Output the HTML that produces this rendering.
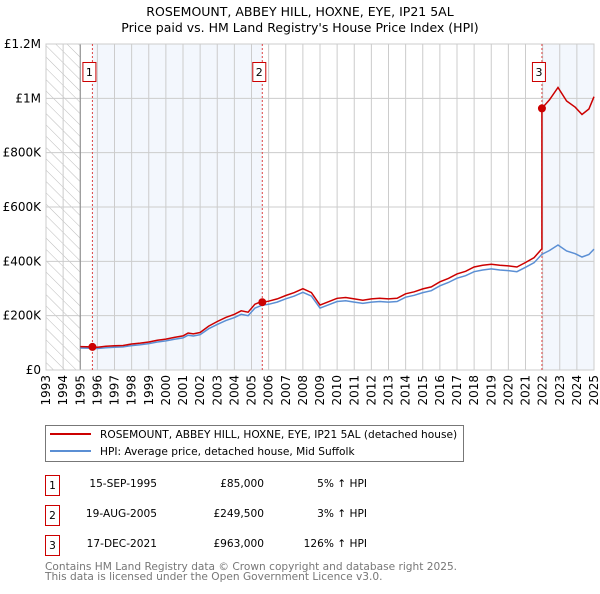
<!DOCTYPE html>
<html><head><meta charset="utf-8">
<style>
body{margin:0;background:#fff;font-family:"DejaVu Sans","Liberation Sans",sans-serif;}
svg text{font-family:"DejaVu Sans","Liberation Sans",sans-serif;}
</style></head>
<body>
<svg id="chart" width="600" height="590" xmlns="http://www.w3.org/2000/svg">
<defs>
<pattern id="hatch" patternUnits="userSpaceOnUse" width="8" height="8" patternTransform="rotate(-45)">
<line x1="0" y1="0" x2="0" y2="8" stroke="#bbb" stroke-width="1"/>
</pattern>
</defs>
<text x="300" y="16" text-anchor="middle" font-size="12.5">ROSEMOUNT, ABBEY HILL, HOXNE, EYE, IP21 5AL</text>
<text x="300" y="32" text-anchor="middle" font-size="12.5">Price paid vs. HM Land Registry's House Price Index (HPI)</text>
<g id="plot"></g>
<g>
<rect x="45.5" y="425.5" width="418" height="36" fill="#fff" stroke="#777"/>
<line x1="50" y1="434" x2="91" y2="434" stroke="#cc0000" stroke-width="2"/>
<text x="100" y="438" font-size="10.6">ROSEMOUNT, ABBEY HILL, HOXNE, EYE, IP21 5AL (detached house)</text>
<line x1="50" y1="451" x2="91" y2="451" stroke="#5b8fd4" stroke-width="2"/>
<text x="100" y="455" font-size="10.6">HPI: Average price, detached house, Mid Suffolk</text>
</g>
<g font-size="10.6">
<rect x="45.5" y="475.5" width="14" height="20" fill="#fff" stroke="#cc0000"/><text x="52.5" y="489" text-anchor="middle">1</text>
<text x="157" y="487" text-anchor="end">15-SEP-1995</text><text x="264" y="487" text-anchor="end">£85,000</text><text x="367" y="487" text-anchor="end">5% ↑ HPI</text>
<rect x="45.5" y="505.5" width="14" height="20" fill="#fff" stroke="#cc0000"/><text x="52.5" y="519" text-anchor="middle">2</text>
<text x="157" y="517" text-anchor="end">19-AUG-2005</text><text x="264" y="517" text-anchor="end">£249,500</text><text x="367" y="517" text-anchor="end">3% ↑ HPI</text>
<rect x="45.5" y="535.5" width="14" height="20" fill="#fff" stroke="#cc0000"/><text x="52.5" y="549" text-anchor="middle">3</text>
<text x="157" y="547" text-anchor="end">17-DEC-2021</text><text x="264" y="547" text-anchor="end">£963,000</text><text x="367" y="547" text-anchor="end">126% ↑ HPI</text>
</g>
<text x="45" y="570" font-size="10.6" fill="#777">Contains HM Land Registry data © Crown copyright and database right 2025.</text>
<text x="45" y="580" font-size="10.6" fill="#777">This data is licensed under the Open Government Licence v3.0.</text>
</svg>
<script>
const hpiYears = [1995,1995.7,1996,1996.5,1997,1997.5,1998,1998.5,1999,1999.5,2000,2000.5,2001,2001.3,2001.6,2002,2002.5,2003,2003.5,2004,2004.4,2004.8,2005.2,2005.6,2006,2006.5,2007,2007.5,2008,2008.5,2009,2009.5,2010,2010.5,2011,2011.5,2012,2012.5,2013,2013.5,2014,2014.5,2015,2015.5,2016,2016.5,2017,2017.5,2018,2018.5,2019,2019.5,2020,2020.5,2021,2021.5,2021.96,2022.4,2022.9,2023.4,2023.9,2024.3,2024.7,2025];
const hpiValues = [81,80,79,82,84,85,90,93,97,103,107,113,118,128,125,130,152,168,182,193,205,200,228,238,242,250,262,272,286,272,228,240,252,255,250,245,250,252,250,252,268,275,285,292,310,322,338,347,362,368,372,368,366,362,378,395,426,440,460,438,428,416,425,445];
const saleYears = [1995.71,2005.63,2021.96];
const salePrices = [85000,249500,963000];
const saleLabels = ["1","2","3"];
const yTicks = [0,200000,400000,600000,800000,1000000,1200000];
const yTickLabels = ["£0","£200K","£400K","£600K","£800K","£1M","£1.2M"];
const xYears = [1993,1994,1995,1996,1997,1998,1999,2000,2001,2002,2003,2004,2005,2006,2007,2008,2009,2010,2011,2012,2013,2014,2015,2016,2017,2018,2019,2020,2021,2022,2023,2024,2025];

const NS="http://www.w3.org/2000/svg";
const L=46,R=594,T=44,B=370;
const x=y=>L+(y-1993)/(2025-1993)*(R-L);
const yv=v=>B-v/1200000*(B-T);
const g=document.getElementById('plot');
function mk(tag,attrs,parent){const e=document.createElementNS(NS,tag);for(const k in attrs)e.setAttribute(k,attrs[k]);(parent||g).appendChild(e);return e;}
function hpiAt(t){for(let i=0;i<hpiYears.length-1;i++){if(t>=hpiYears[i]&&t<=hpiYears[i+1]){const f=(t-hpiYears[i])/(hpiYears[i+1]-hpiYears[i]);return (hpiValues[i]+f*(hpiValues[i+1]-hpiValues[i]))*1000;}}return hpiValues[hpiValues.length-1]*1000;}

let e=mk('rect',{x:L,y:T,width:x(1995)-L,height:B-T,fill:'url(#hatch)'});


e=mk('rect',{x:x(saleYears[0]),y:T,width:x(saleYears[1])-x(saleYears[0]),height:B-T,fill:'#eef3fc',opacity:0.7});


e=mk('rect',{x:x(saleYears[2]),y:T,width:R-x(saleYears[2]),height:B-T,fill:'#eef3fc',opacity:0.7});



xYears.forEach(yr=>{
 const l=mk('line',{x1:x(yr),x2:x(yr),y1:T,y2:B,stroke:'#ccc','stroke-width':1});
 
 
 const t=mk('text',{x:0,y:0,'font-size':12,'text-anchor':'end',transform:`translate(${x(yr)+4},${B+5}) rotate(-90)`});
 t.textContent=yr;
 
 
});
yTicks.forEach((v,i)=>{
 const l=mk('line',{x1:L,x2:R,y1:yv(v),y2:yv(v),stroke:'#ccc','stroke-width':1});
 
 
 const t=mk('text',{x:L-5,y:yv(v)+4,'font-size':12,'text-anchor':'end'});
 t.textContent=yTickLabels[i];
 
 
});
e=mk('line',{x1:x(1995),x2:x(1995),y1:T,y2:B,stroke:'#888'});


e=mk('rect',{x:L,y:T,width:R-L,height:B-T,fill:'none',stroke:'#ccc'});



saleYears.forEach(s=>{
 const l=mk('line',{x1:x(s),x2:x(s),y1:T,y2:B,stroke:'#dd4444','stroke-dasharray':'2,2','stroke-width':1});
 
 
});

const hp=hpiYears.map((t,i)=>x(t).toFixed(1)+','+yv(hpiValues[i]*1000).toFixed(1)).join(' ');
e=mk('polyline',{points:hp,fill:'none',stroke:'#5b8fd4','stroke-width':1.5});



const ratios=saleYears.map((s,i)=>salePrices[i]/hpiAt(s));
const pts=[];
hpiYears.forEach((t,i)=>{
 let k=0;for(let j=0;j<saleYears.length;j++)if(t>=saleYears[j])k=j;
 saleYears.forEach((s,j)=>{ if(j>0 && t>=s && (i===0||hpiYears[i-1]<s)){pts.push([s,hpiAt(s)*ratios[j-1]]);pts.push([s,salePrices[j]]);} });
 pts.push([t,hpiValues[i]*1000*ratios[k]]);
});
e=mk('polyline',{points:pts.map(p=>x(p[0]).toFixed(1)+','+yv(p[1]).toFixed(1)).join(' '),fill:'none',stroke:'#cc0000','stroke-width':1.5});



saleYears.forEach((s,i)=>{
 const c=mk('circle',{cx:x(s),cy:yv(salePrices[i]),r:4,fill:'#cc0000'});
 
 
 const bx=x(s)-10;
 const r=mk('rect',{x:bx+0.5,y:62.5,width:13,height:19,fill:'#fff',stroke:'#cc0000'});
 
 
 const t=mk('text',{x:bx+7,y:76,'font-size':11,'text-anchor':'middle'});
 t.textContent=saleLabels[i];
 
 
});
</script>
</body></html>
